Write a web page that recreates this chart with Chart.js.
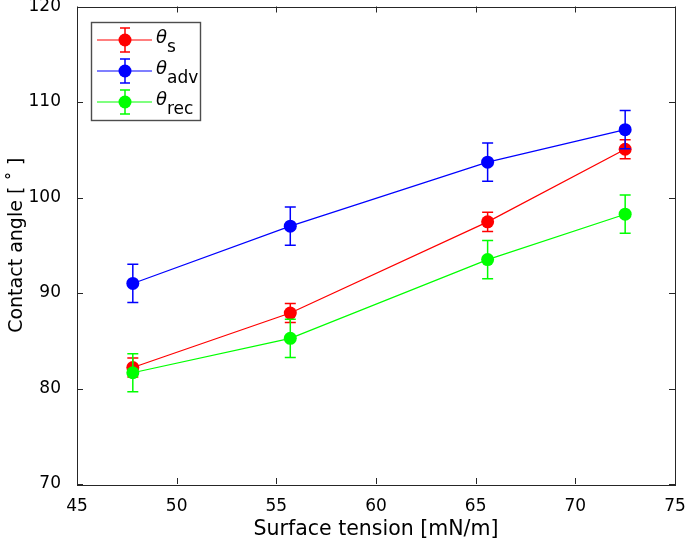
<!DOCTYPE html>
<html>
<head>
<meta charset="utf-8">
<script src="https://cdn.jsdelivr.net/npm/chart.js@4.4.1/dist/chart.umd.min.js"></script>
<style>
  html, body { margin: 0; padding: 0; background: #fff; }
  #wrap { width: 685px; height: 540px; }
</style>
</head>
<body>
<div id="wrap"><canvas id="chart" width="685" height="540"></canvas></div>
<script>
// values
const surfaceTension = [47.8, 55.7, 65.6, 72.5];
const thetaS = [82.2, 87.9, 97.45, 105.05];
const thetaSErr = [1, 1, 1, 1];
const thetaAdv = [91.0, 97.0, 103.7, 107.1];
const thetaAdvErr = [2, 2, 2, 2];
const thetaRec = [81.65, 85.25, 93.5, 98.25];
const thetaRecErr = [2, 2, 2, 2];
const xTicks = [45, 50, 55, 60, 65, 70, 75];
const yTicks = [70, 80, 90, 100, 110, 120];
const legendSubs = ['s', 'adv', 'rec'];

const FONT = '"DejaVu Sans", sans-serif';
const AXIS_COLOR = '#262626';

function points(ys) {
  return surfaceTension.map((x, i) => ({ x: x, y: ys[i] }));
}

function makeSet(label, ys, errs, color, order) {
  return {
    label: label,
    data: points(ys),
    errors: errs,
    borderColor: color,
    backgroundColor: color,
    borderWidth: 1.2,
    pointRadius: 6.5,
    pointBorderWidth: 0,
    pointHoverRadius: 6.5,
    showLine: true,
    tension: 0,
    order: order
  };
}

const datasets = [
  makeSet('θs', thetaS, thetaSErr, '#ff0000', 3),
  makeSet('θadv', thetaAdv, thetaAdvErr, '#0000ff', 2),
  makeSet('θrec', thetaRec, thetaRecErr, '#00ff00', 1)
];

// error bars, drawn just before each dataset so the stacking matches
const errorBars = {
  id: 'errorBars',
  beforeDatasetDraw(chart, args) {
    const ds = chart.data.datasets[args.index];
    const xs = chart.scales.x, ys = chart.scales.y;
    const ctx = chart.ctx;
    ctx.save();
    ctx.strokeStyle = ds.borderColor;
    ctx.lineWidth = 1.5;
    ds.data.forEach((p, i) => {
      const px = xs.getPixelForValue(p.x);
      const top = ys.getPixelForValue(p.y + ds.errors[i]);
      const bot = ys.getPixelForValue(p.y - ds.errors[i]);
      ctx.beginPath();
      ctx.moveTo(px, top); ctx.lineTo(px, bot);
      ctx.moveTo(px - 5.5, top); ctx.lineTo(px + 5.5, top);
      ctx.moveTo(px - 5.5, bot); ctx.lineTo(px + 5.5, bot);
      ctx.stroke();
    });
    ctx.restore();
  }
};

// box around the axes with inward ticks on all four sides
const frame = {
  id: 'frame',
  afterDatasetsDraw(chart) {
    const { left, right, top, bottom } = chart.chartArea;
    const ctx = chart.ctx;
    const tl = 6;
    ctx.save();
    ctx.strokeStyle = AXIS_COLOR;
    ctx.lineWidth = 1;
    ctx.strokeRect(Math.round(left) + 0.5, Math.round(top) + 0.5,
      Math.round(right - left), Math.round(bottom - top));
    ctx.beginPath();
    xTicks.forEach(v => {
      const px = Math.round(chart.scales.x.getPixelForValue(v)) + 0.5;
      ctx.moveTo(px, bottom); ctx.lineTo(px, bottom - tl);
      ctx.moveTo(px, top); ctx.lineTo(px, top + tl);
    });
    yTicks.forEach(v => {
      const py = Math.round(chart.scales.y.getPixelForValue(v)) + 0.5;
      ctx.moveTo(left, py); ctx.lineTo(left + tl, py);
      ctx.moveTo(right, py); ctx.lineTo(right - tl, py);
    });
    ctx.stroke();
    ctx.restore();
  }
};

// legend with θ and subscripts
const thetaLegend = {
  id: 'thetaLegend',
  afterDraw(chart) {
    const ctx = chart.ctx;
    const bx = 91.5, by = 22.5, bw = 109, bh = 98;
    const rows = [40, 71, 102];
    ctx.save();
    ctx.fillStyle = '#fff';
    ctx.fillRect(bx, by, bw, bh);
    ctx.strokeStyle = '#4d4d4d';
    ctx.lineWidth = 1.4;
    ctx.strokeRect(bx, by, bw, bh);
    datasets.forEach((ds, i) => {
      const y = rows[i];
      const cx = 125;
      ctx.strokeStyle = ds.borderColor;
      ctx.lineWidth = 1.2;
      ctx.beginPath();
      ctx.moveTo(97, y); ctx.lineTo(152, y);
      ctx.stroke();
      ctx.lineWidth = 1.5;
      ctx.beginPath();
      ctx.moveTo(cx, y - 12); ctx.lineTo(cx, y + 12);
      ctx.moveTo(cx - 5, y - 12); ctx.lineTo(cx + 5, y - 12);
      ctx.moveTo(cx - 5, y + 12); ctx.lineTo(cx + 5, y + 12);
      ctx.stroke();
      ctx.fillStyle = ds.borderColor;
      ctx.beginPath();
      ctx.arc(cx, y, 6.5, 0, Math.PI * 2);
      ctx.fill();
      ctx.fillStyle = '#000';
      ctx.textAlign = 'left';
      ctx.textBaseline = 'alphabetic';
      ctx.font = 'italic 18px ' + FONT;
      ctx.fillText('θ', 156, y + 3);
      ctx.font = '17px ' + FONT;
      ctx.fillText(legendSubs[i], 167, y + 12);
    });
    ctx.restore();
  }
};

new Chart(document.getElementById('chart'), {
  type: 'scatter',
  data: { datasets: datasets },
  options: {
    responsive: false,
    animation: false,
    devicePixelRatio: 1,
    layout: { padding: { left: 0, right: 10, top: 6, bottom: 0 } },
    plugins: {
      legend: { display: false },
      tooltip: { enabled: false }
    },
    scales: {
      x: {
        type: 'linear',
        min: 45,
        max: 75,
        afterBuildTicks: s => { s.ticks = xTicks.map(v => ({ value: v })); },
        ticks: { color: '#000', font: { family: FONT, size: 17 }, padding: 4, maxRotation: 0 },
        grid: { display: false },
        border: { display: false },
        title: {
          display: true,
          text: 'Surface tension [mN/m]',
          color: '#000',
          font: { family: FONT, size: 20.5, lineHeight: 1.0 },
          padding: { top: 0, bottom: 0 }
        },
        afterFit: s => {
          s.height = 56;
          s.paddingLeft = 0;
          s.paddingRight = 0;
        }
      },
      y: {
        type: 'linear',
        min: 70,
        max: 120,
        afterBuildTicks: s => { s.ticks = yTicks.map(v => ({ value: v })); },
        ticks: { color: '#000', font: { family: FONT, size: 17 }, padding: 8 },
        grid: { display: false },
        border: { display: false },
        title: {
          display: true,
          text: 'Contact angle [ ˚ ]',
          color: '#000',
          font: { family: FONT, size: 19 },
          padding: { top: 6, bottom: 0 }
        },
        afterFit: s => {
          s.width = 77;
          s.paddingTop = 0;
          s.paddingBottom = 0;
        }
      }
    }
  },
  plugins: [errorBars, frame, thetaLegend]
});
</script>
</body>
</html>
